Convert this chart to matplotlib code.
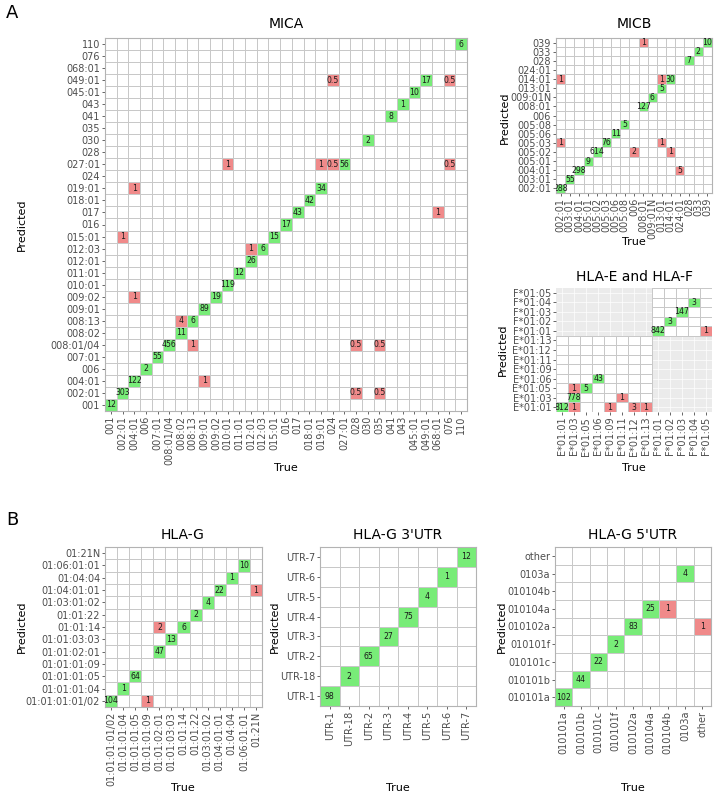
import numpy as np
import matplotlib.pyplot as plt
from matplotlib.colors import ListedColormap

# ---- data ----
mica_labels = ["001", "002:01", "004:01", "006", "007:01", "008:01/04", "008:02", "008:13",
               "009:01", "009:02", "010:01", "011:01", "012:01", "012:03", "015:01", "016",
               "017", "018:01", "019:01", "024", "027:01", "028", "030", "035", "041", "043",
               "045:01", "049:01", "068:01", "076", "110"]
mica_true = ["001", "002:01", "004:01", "006", "007:01", "008:01/04", "008:02", "008:13",
             "009:01", "009:02", "010:01", "011:01", "012:01", "012:03", "015:01", "016",
             "017", "018:01", "019:01", "027:01", "030", "041", "043", "045:01", "049:01", "110",
             "002:01", "004:01", "004:01", "010:01", "019:01", "024", "076", "024", "076",
             "068:01", "012:01", "008:02", "008:13", "028", "035", "009:01", "028", "035"]
mica_pred = ["001", "002:01", "004:01", "006", "007:01", "008:01/04", "008:02", "008:13",
             "009:01", "009:02", "010:01", "011:01", "012:01", "012:03", "015:01", "016",
             "017", "018:01", "019:01", "027:01", "030", "041", "043", "045:01", "049:01", "110",
             "015:01", "019:01", "009:02", "027:01", "027:01", "027:01", "027:01", "049:01", "049:01",
             "017", "012:03", "008:13", "008:01/04", "008:01/04", "008:01/04", "004:01", "002:01", "002:01"]
mica_vals = [12, 303, 122, 2, 55, 456, 11, 6, 89, 19, 119, 12, 26, 6, 15, 17, 43, 42, 34, 56, 2,
             8, 1, 10, 17, 6,
             1, 1, 1, 1, 1, 0.5, 0.5, 0.5, 0.5, 1, 1, 4, 1, 0.5, 0.5, 1, 0.5, 0.5]

micb_labels = ["002:01", "003:01", "004:01", "005:01", "005:02", "005:03", "005:06", "005:08",
               "006", "008:01", "009:01N", "013:01", "014:01", "024:01", "028", "033", "039"]
micb_true = ["002:01", "003:01", "004:01", "005:01", "005:02", "005:03", "005:06", "005:08",
             "008:01", "009:01N", "013:01", "014:01", "028", "033", "039",
             "008:01", "002:01", "013:01", "002:01", "013:01", "006", "014:01", "024:01"]
micb_pred = ["002:01", "003:01", "004:01", "005:01", "005:02", "005:03", "005:06", "005:08",
             "008:01", "009:01N", "013:01", "014:01", "028", "033", "039",
             "039", "014:01", "014:01", "005:03", "005:03", "005:02", "005:02", "004:01"]
micb_vals = [288, 55, 298, 9, 614, 76, 11, 5, 127, 6, 5, 30, 7, 2, 10,
             1, 1, 1, 1, 1, 2, 1, 5]

ef_labels = ["E*01:01", "E*01:03", "E*01:05", "E*01:06", "E*01:09", "E*01:11", "E*01:12",
             "E*01:13", "F*01:01", "F*01:02", "F*01:03", "F*01:04", "F*01:05"]
ef_true = ["E*01:01", "E*01:03", "E*01:05", "E*01:06", "F*01:01", "F*01:02", "F*01:03", "F*01:04",
           "E*01:03", "E*01:09", "E*01:12", "E*01:13", "E*01:11", "E*01:03", "F*01:05"]
ef_pred = ["E*01:01", "E*01:03", "E*01:05", "E*01:06", "F*01:01", "F*01:02", "F*01:03", "F*01:04",
           "E*01:01", "E*01:01", "E*01:01", "E*01:01", "E*01:03", "E*01:05", "F*01:01"]
ef_vals = [812, 778, 5, 43, 842, 3, 147, 3, 1, 1, 3, 1, 1, 1, 1]

g_labels = ["01:01:01:01/02", "01:01:01:04", "01:01:01:05", "01:01:01:09", "01:01:02:01",
            "01:01:03:03", "01:01:14", "01:01:22", "01:03:01:02", "01:04:01:01", "01:04:04",
            "01:06:01:01", "01:21N"]
g_true = ["01:01:01:01/02", "01:01:01:04", "01:01:01:05", "01:01:02:01", "01:01:03:03",
          "01:01:14", "01:01:22", "01:03:01:02", "01:04:01:01", "01:04:04", "01:06:01:01",
          "01:01:01:09", "01:01:02:01", "01:21N"]
g_pred = ["01:01:01:01/02", "01:01:01:04", "01:01:01:05", "01:01:02:01", "01:01:03:03",
          "01:01:14", "01:01:22", "01:03:01:02", "01:04:01:01", "01:04:04", "01:06:01:01",
          "01:01:01:01/02", "01:01:14", "01:04:01:01"]
g_vals = [104, 1, 64, 47, 13, 6, 2, 4, 22, 1, 10, 1, 2, 1]

utr3_labels = ["UTR-1", "UTR-18", "UTR-2", "UTR-3", "UTR-4", "UTR-5", "UTR-6", "UTR-7"]
utr3_true = utr3_labels
utr3_pred = utr3_labels
utr3_vals = [98, 2, 65, 27, 75, 4, 1, 12]

utr5_labels = ["010101a", "010101b", "010101c", "010101f", "010102a", "010104a", "010104b",
               "0103a", "other"]
utr5_true = ["010101a", "010101b", "010101c", "010101f", "010102a", "010104a", "0103a",
             "010104b", "other"]
utr5_pred = ["010101a", "010101b", "010101c", "010101f", "010102a", "010104a", "0103a",
             "010104a", "010102a"]
utr5_vals = [102, 44, 22, 2, 83, 25, 4, 1, 1]

W, H = 715, 795
GREEN = "#78EC78"
RED = "#F08A8A"
LINE = "#C8C8C8"
TICKC = "#4D4D4D"


def place(fig, l, t, r, b):
    return fig.add_axes([l / W, 1 - b / H, (r - l) / W, (b - t) / H])


def label(fig, x, y, s, size=8, rot=0, **kw):
    fig.text(x / W, 1 - y / H, s, ha="center", va="center", fontsize=size, rotation=rot, **kw)


def draw_matrix(ax, labels, true_lab, pred_lab, vals, blocks=None):
    n = len(labels)
    grid = np.zeros((n, n))
    for t, p, v in zip(true_lab, pred_lab, vals):
        i = labels.index(t)
        j = labels.index(p)
        grid[j, i] = 1 if i == j else 2
    if blocks is None:
        blocks = [(0, n)]
    edges = np.arange(n + 1) - 0.5
    cmap = ListedColormap(["white", GREEN, RED])
    # only the blocks of tiles that exist get drawn (E x E, F x F)
    for a, b in blocks:
        ax.pcolormesh(edges[a:b + 1], edges[a:b + 1], grid[a:b, a:b], cmap=cmap,
                      vmin=-0.5, vmax=2.5, edgecolors=LINE, linewidth=0.5, zorder=1)
    for t, p, v in zip(true_lab, pred_lab, vals):
        s = str(int(v)) if v == int(v) else str(v)
        ax.text(labels.index(t), labels.index(p), s, ha="center", va="center",
                fontsize=5.6, color="#1a1a1a", clip_on=True, zorder=3)
    ax.set_xlim(-0.5, n - 0.5)
    ax.set_ylim(-0.5, n - 0.5)
    ax.set_xticks(range(n))
    ax.set_xticklabels(labels, rotation=90)
    ax.set_yticks(range(n))
    ax.set_yticklabels(labels)
    ax.tick_params(labelsize=7, colors=TICKC, length=2, width=0.6, pad=1.5)
    if len(blocks) > 1:
        ax.set_facecolor("#EBEBEB")
        ax.grid(color="white", linewidth=0.5)
        ax.set_axisbelow(True)
        for sp in ax.spines.values():
            sp.set_visible(False)
    else:
        for sp in ax.spines.values():
            sp.set_color("#B3B3B3")
            sp.set_linewidth(0.8)


fig = plt.figure(figsize=(W / 100, H / 100), dpi=100)

ax = place(fig, 105, 38, 467, 411)
draw_matrix(ax, mica_labels, mica_true, mica_pred, mica_vals)
label(fig, 286, 24, "MICA", 10)
label(fig, 286, 468, "True")
label(fig, 22, 225, "Predicted", rot=90)

ax = place(fig, 556, 38, 712, 193)
draw_matrix(ax, micb_labels, micb_true, micb_pred, micb_vals)
label(fig, 634, 24, "MICB", 10)
label(fig, 634, 242, "True")
label(fig, 505, 118, "Predicted", rot=90)

ax = place(fig, 556, 288, 712, 412)
draw_matrix(ax, ef_labels, ef_true, ef_pred, ef_vals, blocks=[(0, 8), (8, 13)])
label(fig, 634, 277, "HLA-E and HLA-F", 10)
label(fig, 634, 468, "True")
label(fig, 503, 350, "Predicted", rot=90)

ax = place(fig, 105, 547, 262, 707)
draw_matrix(ax, g_labels, g_true, g_pred, g_vals)
label(fig, 183, 535, "HLA-G", 10)
label(fig, 183, 788, "True")
label(fig, 22, 627, "Predicted", rot=90)

ax = place(fig, 320, 547, 476, 706)
draw_matrix(ax, utr3_labels, utr3_true, utr3_pred, utr3_vals)
label(fig, 398, 535, "HLA-G 3'UTR", 10)
label(fig, 398, 788, "True")
label(fig, 275, 627, "Predicted", rot=90)

ax = place(fig, 555, 547, 711, 706)
draw_matrix(ax, utr5_labels, utr5_true, utr5_pred, utr5_vals)
label(fig, 633, 535, "HLA-G 5'UTR", 10)
label(fig, 633, 788, "True")
label(fig, 502, 627, "Predicted", rot=90)

label(fig, 12, 13, "A", 13)
label(fig, 12, 520, "B", 13)

fig.savefig("out.png", dpi=100)
